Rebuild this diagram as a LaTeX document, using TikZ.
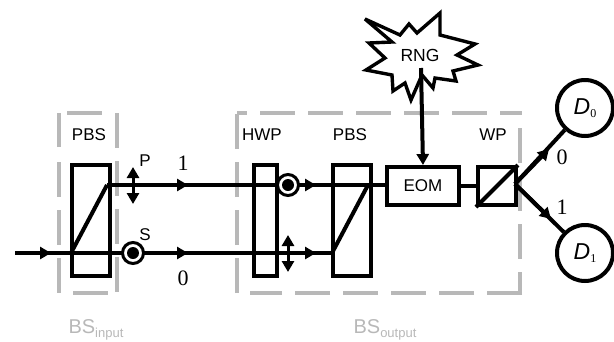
\documentclass[tikz,border=0pt]{standalone}
\usepackage{fontspec}
\setmainfont{Liberation Sans}
\newfontfamily\serifface{Liberation Serif}
\usetikzlibrary{arrows.meta}
\definecolor{dashgray}{gray}{0.72}
\definecolor{labgray}{gray}{0.72}
\tikzset{
  beam/.style={line width=4pt,black},
  box/.style={draw=black,line width=4pt,fill=none,inner sep=0pt,anchor=north west},
  frame/.style={draw=dashgray,line width=4pt,dash pattern=on 35pt off 13pt},
  lab/.style={font=\fontsize{17}{19}\selectfont,inner sep=0pt},
  num/.style={font=\serifface\fontsize{22}{24}\selectfont,inner sep=0pt},
  bslab/.style={font=\fontsize{20}{22}\selectfont,text=labgray,inner sep=0pt},
  det/.style={draw=black,line width=4pt,circle,minimum size=56pt,inner sep=0pt,font=\serifface\itshape\fontsize{23}{25}\selectfont},
  pol/.style={draw=black,line width=3pt,fill=white,circle,minimum size=21pt,inner sep=0pt},
  arrowed/.style={-{Triangle[length=11pt,width=12pt]}},
  dbl/.style={line width=3pt,{Triangle[length=11pt,width=12pt]}-{Triangle[length=11pt,width=12pt]}}
}
\begin{document}
\begin{tikzpicture}[x=1pt,y=-1pt]
\useasboundingbox (0,0) rectangle (614,341);
% frames
\draw[frame] (59,147) -- (59,113);
\draw[frame] (59,162) -- (59,293);
\draw[frame] (67,113) -- (102,113);
\draw[frame] (117,113) -- (117,293);
\draw[frame] (73,293) -- (108,293);
\draw[frame,dash phase=25pt] (237,113) -- (522,113);
\draw[frame,dash phase=33pt] (520,113) -- (520,295);
\draw[frame] (237,293) -- (237,111);
\draw[frame] (522,293) -- (250,293);
% coordinates
\coordinate (in) at (15,253);
\coordinate (a1) at (71,253);
\coordinate (b1) at (107,185);
\coordinate (a2) at (332,253);
\coordinate (b2) at (368,185);
\coordinate (rngb) at (421,68);
% boxes
\node[box,minimum width=38pt,minimum height=111pt] (pbsa) at (70,163) {};
\node[box,minimum width=23pt,minimum height=111pt] (hwp) at (252,163) {};
\node[box,minimum width=38pt,minimum height=111pt] (pbsb) at (331,163) {};
\node[box,minimum width=72pt,minimum height=38pt,font=\fontsize{17}{19}\selectfont] (eom) at (385,165) {EOM};
\node[box,minimum width=38pt,minimum height=38pt] (wp) at (476,165) {};
\draw[beam] (a1) -- (b1);
\draw[beam] (a2) -- (b2);
\draw[beam] (wp.south west) -- (wp.north east);
% beams
\draw[beam] (in) -- (a1) -- (a2);
\draw[beam] (b1) -- (b2);
\draw[beam] (b2) -- (b2 -| eom.west);
\draw[beam] (eom.east) -- (wp.west);
\draw[beam,arrowed] (in) -- (51,253);
\draw[beam,arrowed] (b1) -- (188,185);
\draw[beam,arrowed] (a1) -- (188,253);
\draw[beam,arrowed] (288,185) -- (316,185);
\draw[beam,arrowed] (288,253) -- (316,253);
% polarisations
\node[pol] (s1) at (133,253) {};
\fill (s1) circle (6pt);
\node[pol] (s2) at (288,185) {};
\fill (s2) circle (6pt);
\draw[dbl] (133,167) -- (133,204);
\draw[dbl] (288,235) -- (288,272);
% detectors
\node[det] (d0) at (585,108) {$\mathit{D}$\raisebox{-3pt}{\fontsize{12}{12}\selectfont\upshape 0}};
\node[det] (d1) at (585,253) {$\mathit{D}$\raisebox{-3pt}{\fontsize{12}{12}\selectfont\upshape 1}};
\coordinate (wpo) at (515,184);
\draw[beam] (wpo) -- (d0);
\draw[beam] (wpo) -- (d1);
\draw[beam,arrowed] (wpo) -- (549,149);
\draw[beam,arrowed] (wpo) -- (551,219);
% RNG
\filldraw[fill=white,draw=black,line width=3.4pt,line join=miter,miter limit=4]
 (365,19) -- (400,35) -- (409,24) -- (417,33) -- (440,13) -- (440,35) -- (475,44) -- (457,55) -- (478,65) -- (453,71) -- (456,81) -- (435,78) -- (433,88) -- (422,75) -- (411,100) -- (405,83) -- (393,91) -- (392,75) -- (366,70) -- (385,58) -- (369,43) -- (392,42) -- cycle;
\node[font=\fontsize{17.5}{19}\selectfont,inner sep=0pt] (rng) at (420,55) {RNG};
\draw[beam,arrowed] (rngb) -- (eom.north);
% labels
\node[lab] (l1) at (89,135) {PBS};
\node[lab] (l2) at (262,135) {HWP};
\node[lab] (l3) at (350,135) {PBS};
\node[lab] (l4) at (493,135) {WP};
\node[lab] (l5) at (145,161) {P};
\node[lab] (l6) at (145,235) {S};
\node[num] (n1) at (183,163) {1};
\node[num] (n2) at (183,278) {0};
\node[num] (n3) at (562,157) {0};
\node[num] (n4) at (562,207) {1};
\node[bslab] (b1l) at (96,330) {BS\raisebox{-4pt}{\fontsize{13}{13}\selectfont input}};
\node[bslab] (b2l) at (385,330) {BS\raisebox{-4pt}{\fontsize{13}{13}\selectfont output}};
\end{tikzpicture}
\end{document}
